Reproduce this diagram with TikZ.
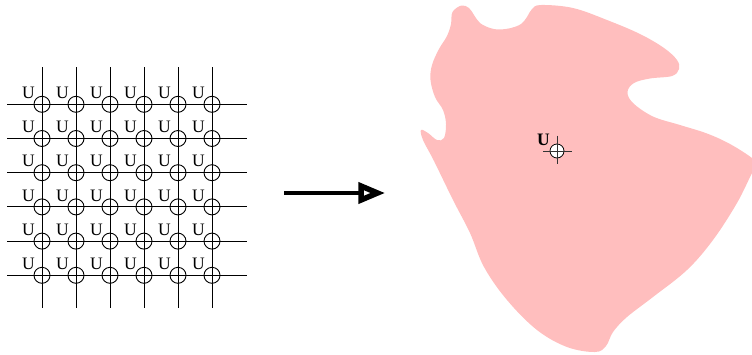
\documentclass[tikz,border=0pt]{standalone}
\usepackage{fontspec}
\setmainfont{Liberation Serif}
\definecolor{blobpink}{RGB}{255,190,190}
\begin{document}
\begin{tikzpicture}[x=1pt,y=-1pt,
  gridline/.style={line width=1pt},
  ucirc/.style={circle,draw,line width=0.9pt,minimum size=16pt,inner sep=0pt},
  ulabel/.style={font=\fontsize{17.5}{17.5}\selectfont,inner sep=0pt},
  bcirc/.style={circle,draw,fill=white,line width=0.8pt,minimum size=14pt,inner sep=0pt},
  crossline/.style={line width=0.8pt,black!80},
]
\useasboundingbox (0,0) rectangle (752,354);
% blob
\begin{scope}
\clip (0,0) rectangle (752,354);
\fill[blobpink] plot[smooth cycle, tension=0.6] coordinates {
(461.5,5.5) (469,8) (474,15) (480,23) (490,28) (499,29.5) (511,28) (521,24)
(527,17) (532,9) (541,5) (573,8) (607,20) (640,34) (664,48) (677,60) (679,69) (672,76)
(650,78.5) (634,83) (627.5,92) (633,103) (653,116.5) (680,125) (707,133.5)
(730,144) (752,158) (757,165) (752,173) (737,203) (713,240) (687,270) (653,297)
(627,317) (613,332) (606,346) (595,352) (567,347) (537,330) (507,300) (484,267)
(470,233) (453,200) (434,161) (423,140) (421,130) (428,133) (437,140) (444,138)
(446,124) (443,110) (435,97) (430.5,80) (432,65) (439,49) (447,36) (451,24) (452.5,12)};
\end{scope}
% grid
\foreach \i in {1,...,6} {
  \coordinate (vt\i) at (8+34*\i,67);
  \coordinate (vb\i) at (8+34*\i,308);
  \draw[gridline] (vt\i) -- (vb\i);
  \coordinate (hl\i) at (7,70.1+34.2*\i);
  \coordinate (hr\i) at (247,70.1+34.2*\i);
  \draw[gridline] (hl\i) -- (hr\i);
}
\foreach \i in {1,...,6} {
  \foreach \j in {1,...,6} {
    \node[ucirc] (c\i\j) at (8+34*\i,70.1+34.2*\j) {};
    \node[ulabel] (u\i\j) at (8+34*\i-13.5,70.1+34.2*\j-11.5) {U};
  }
}
% arrow
\coordinate (a1) at (284,193);
\coordinate (a2) at (361,193);
\draw[line width=4.5pt] (a1) -- (a2);
\draw[line width=5.5pt,fill=white,line join=miter] (361,186) -- (377.5,193) -- (361,200) -- cycle;
% blob marker
\node[bcirc] (bm) at (557,151) {};
\coordinate (bl) at (543,151);
\coordinate (br) at (571.5,151);
\coordinate (bt) at (557,135.5);
\coordinate (bb) at (557,164);
\draw[crossline] (bl) -- (br);
\draw[crossline] (bt) -- (bb);
\node[ulabel,font=\fontsize{17.5}{17.5}\selectfont\bfseries] (bu) at (543.5,139.5) {U};
\end{tikzpicture}
\end{document}
